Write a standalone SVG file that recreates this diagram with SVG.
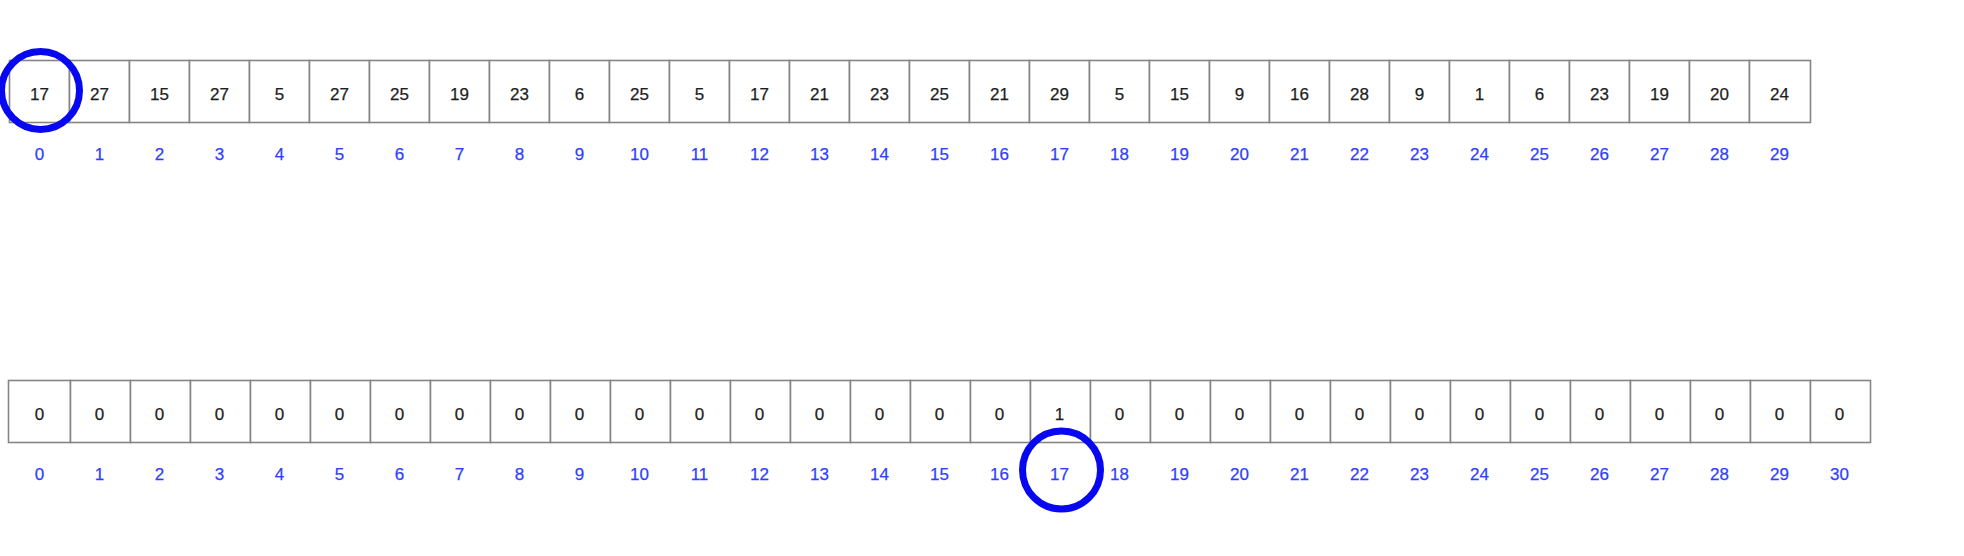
<svg xmlns="http://www.w3.org/2000/svg" width="1964" height="556" viewBox="0 0 1964 556">
<style>
.cell{fill:#fff;stroke:#858585;stroke-width:1.6}
.val{font-family:"Liberation Sans",Arial,sans-serif;font-size:17px;fill:#1e1e1e;text-anchor:middle;stroke:#1e1e1e;stroke-width:0.25}
.idx{font-family:"Liberation Sans",Arial,sans-serif;font-size:17px;fill:#3040ff;text-anchor:middle;stroke:#3040ff;stroke-width:0.25}
.ring{fill:none;stroke:#0808f0;stroke-width:7}
</style>
<rect width="1964" height="556" fill="#fff"/>
<g id="top-array">
<g id="t0"><rect class="cell" x="9.5" y="60.5" width="60" height="62"/><text class="val" x="39.5" y="99.5">17</text><text class="idx" x="39.5" y="159.5">0</text></g>
<g id="t1"><rect class="cell" x="69.5" y="60.5" width="60" height="62"/><text class="val" x="99.5" y="99.5">27</text><text class="idx" x="99.5" y="159.5">1</text></g>
<g id="t2"><rect class="cell" x="129.5" y="60.5" width="60" height="62"/><text class="val" x="159.5" y="99.5">15</text><text class="idx" x="159.5" y="159.5">2</text></g>
<g id="t3"><rect class="cell" x="189.5" y="60.5" width="60" height="62"/><text class="val" x="219.5" y="99.5">27</text><text class="idx" x="219.5" y="159.5">3</text></g>
<g id="t4"><rect class="cell" x="249.5" y="60.5" width="60" height="62"/><text class="val" x="279.5" y="99.5">5</text><text class="idx" x="279.5" y="159.5">4</text></g>
<g id="t5"><rect class="cell" x="309.5" y="60.5" width="60" height="62"/><text class="val" x="339.5" y="99.5">27</text><text class="idx" x="339.5" y="159.5">5</text></g>
<g id="t6"><rect class="cell" x="369.5" y="60.5" width="60" height="62"/><text class="val" x="399.5" y="99.5">25</text><text class="idx" x="399.5" y="159.5">6</text></g>
<g id="t7"><rect class="cell" x="429.5" y="60.5" width="60" height="62"/><text class="val" x="459.5" y="99.5">19</text><text class="idx" x="459.5" y="159.5">7</text></g>
<g id="t8"><rect class="cell" x="489.5" y="60.5" width="60" height="62"/><text class="val" x="519.5" y="99.5">23</text><text class="idx" x="519.5" y="159.5">8</text></g>
<g id="t9"><rect class="cell" x="549.5" y="60.5" width="60" height="62"/><text class="val" x="579.5" y="99.5">6</text><text class="idx" x="579.5" y="159.5">9</text></g>
<g id="t10"><rect class="cell" x="609.5" y="60.5" width="60" height="62"/><text class="val" x="639.5" y="99.5">25</text><text class="idx" x="639.5" y="159.5">10</text></g>
<g id="t11"><rect class="cell" x="669.5" y="60.5" width="60" height="62"/><text class="val" x="699.5" y="99.5">5</text><text class="idx" x="699.5" y="159.5">11</text></g>
<g id="t12"><rect class="cell" x="729.5" y="60.5" width="60" height="62"/><text class="val" x="759.5" y="99.5">17</text><text class="idx" x="759.5" y="159.5">12</text></g>
<g id="t13"><rect class="cell" x="789.5" y="60.5" width="60" height="62"/><text class="val" x="819.5" y="99.5">21</text><text class="idx" x="819.5" y="159.5">13</text></g>
<g id="t14"><rect class="cell" x="849.5" y="60.5" width="60" height="62"/><text class="val" x="879.5" y="99.5">23</text><text class="idx" x="879.5" y="159.5">14</text></g>
<g id="t15"><rect class="cell" x="909.5" y="60.5" width="60" height="62"/><text class="val" x="939.5" y="99.5">25</text><text class="idx" x="939.5" y="159.5">15</text></g>
<g id="t16"><rect class="cell" x="969.5" y="60.5" width="60" height="62"/><text class="val" x="999.5" y="99.5">21</text><text class="idx" x="999.5" y="159.5">16</text></g>
<g id="t17"><rect class="cell" x="1029.5" y="60.5" width="60" height="62"/><text class="val" x="1059.5" y="99.5">29</text><text class="idx" x="1059.5" y="159.5">17</text></g>
<g id="t18"><rect class="cell" x="1089.5" y="60.5" width="60" height="62"/><text class="val" x="1119.5" y="99.5">5</text><text class="idx" x="1119.5" y="159.5">18</text></g>
<g id="t19"><rect class="cell" x="1149.5" y="60.5" width="60" height="62"/><text class="val" x="1179.5" y="99.5">15</text><text class="idx" x="1179.5" y="159.5">19</text></g>
<g id="t20"><rect class="cell" x="1209.5" y="60.5" width="60" height="62"/><text class="val" x="1239.5" y="99.5">9</text><text class="idx" x="1239.5" y="159.5">20</text></g>
<g id="t21"><rect class="cell" x="1269.5" y="60.5" width="60" height="62"/><text class="val" x="1299.5" y="99.5">16</text><text class="idx" x="1299.5" y="159.5">21</text></g>
<g id="t22"><rect class="cell" x="1329.5" y="60.5" width="60" height="62"/><text class="val" x="1359.5" y="99.5">28</text><text class="idx" x="1359.5" y="159.5">22</text></g>
<g id="t23"><rect class="cell" x="1389.5" y="60.5" width="60" height="62"/><text class="val" x="1419.5" y="99.5">9</text><text class="idx" x="1419.5" y="159.5">23</text></g>
<g id="t24"><rect class="cell" x="1449.5" y="60.5" width="60" height="62"/><text class="val" x="1479.5" y="99.5">1</text><text class="idx" x="1479.5" y="159.5">24</text></g>
<g id="t25"><rect class="cell" x="1509.5" y="60.5" width="60" height="62"/><text class="val" x="1539.5" y="99.5">6</text><text class="idx" x="1539.5" y="159.5">25</text></g>
<g id="t26"><rect class="cell" x="1569.5" y="60.5" width="60" height="62"/><text class="val" x="1599.5" y="99.5">23</text><text class="idx" x="1599.5" y="159.5">26</text></g>
<g id="t27"><rect class="cell" x="1629.5" y="60.5" width="60" height="62"/><text class="val" x="1659.5" y="99.5">19</text><text class="idx" x="1659.5" y="159.5">27</text></g>
<g id="t28"><rect class="cell" x="1689.5" y="60.5" width="60" height="62"/><text class="val" x="1719.5" y="99.5">20</text><text class="idx" x="1719.5" y="159.5">28</text></g>
<g id="t29"><rect class="cell" x="1749.5" y="60.5" width="61" height="62"/><text class="val" x="1779.5" y="99.5">24</text><text class="idx" x="1779.5" y="159.5">29</text></g>
</g>
<g id="bottom-array">
<g id="b0"><rect class="cell" x="8.5" y="380.5" width="62" height="62"/><text class="val" x="39.5" y="419.5">0</text><text class="idx" x="39.5" y="479.5">0</text></g>
<g id="b1"><rect class="cell" x="70.5" y="380.5" width="60" height="62"/><text class="val" x="99.5" y="419.5">0</text><text class="idx" x="99.5" y="479.5">1</text></g>
<g id="b2"><rect class="cell" x="130.5" y="380.5" width="60" height="62"/><text class="val" x="159.5" y="419.5">0</text><text class="idx" x="159.5" y="479.5">2</text></g>
<g id="b3"><rect class="cell" x="190.5" y="380.5" width="60" height="62"/><text class="val" x="219.5" y="419.5">0</text><text class="idx" x="219.5" y="479.5">3</text></g>
<g id="b4"><rect class="cell" x="250.5" y="380.5" width="60" height="62"/><text class="val" x="279.5" y="419.5">0</text><text class="idx" x="279.5" y="479.5">4</text></g>
<g id="b5"><rect class="cell" x="310.5" y="380.5" width="60" height="62"/><text class="val" x="339.5" y="419.5">0</text><text class="idx" x="339.5" y="479.5">5</text></g>
<g id="b6"><rect class="cell" x="370.5" y="380.5" width="60" height="62"/><text class="val" x="399.5" y="419.5">0</text><text class="idx" x="399.5" y="479.5">6</text></g>
<g id="b7"><rect class="cell" x="430.5" y="380.5" width="60" height="62"/><text class="val" x="459.5" y="419.5">0</text><text class="idx" x="459.5" y="479.5">7</text></g>
<g id="b8"><rect class="cell" x="490.5" y="380.5" width="60" height="62"/><text class="val" x="519.5" y="419.5">0</text><text class="idx" x="519.5" y="479.5">8</text></g>
<g id="b9"><rect class="cell" x="550.5" y="380.5" width="60" height="62"/><text class="val" x="579.5" y="419.5">0</text><text class="idx" x="579.5" y="479.5">9</text></g>
<g id="b10"><rect class="cell" x="610.5" y="380.5" width="60" height="62"/><text class="val" x="639.5" y="419.5">0</text><text class="idx" x="639.5" y="479.5">10</text></g>
<g id="b11"><rect class="cell" x="670.5" y="380.5" width="60" height="62"/><text class="val" x="699.5" y="419.5">0</text><text class="idx" x="699.5" y="479.5">11</text></g>
<g id="b12"><rect class="cell" x="730.5" y="380.5" width="60" height="62"/><text class="val" x="759.5" y="419.5">0</text><text class="idx" x="759.5" y="479.5">12</text></g>
<g id="b13"><rect class="cell" x="790.5" y="380.5" width="60" height="62"/><text class="val" x="819.5" y="419.5">0</text><text class="idx" x="819.5" y="479.5">13</text></g>
<g id="b14"><rect class="cell" x="850.5" y="380.5" width="60" height="62"/><text class="val" x="879.5" y="419.5">0</text><text class="idx" x="879.5" y="479.5">14</text></g>
<g id="b15"><rect class="cell" x="910.5" y="380.5" width="60" height="62"/><text class="val" x="939.5" y="419.5">0</text><text class="idx" x="939.5" y="479.5">15</text></g>
<g id="b16"><rect class="cell" x="970.5" y="380.5" width="60" height="62"/><text class="val" x="999.5" y="419.5">0</text><text class="idx" x="999.5" y="479.5">16</text></g>
<g id="b17"><rect class="cell" x="1030.5" y="380.5" width="60" height="62"/><text class="val" x="1059.5" y="419.5">1</text><text class="idx" x="1059.5" y="479.5">17</text></g>
<g id="b18"><rect class="cell" x="1090.5" y="380.5" width="60" height="62"/><text class="val" x="1119.5" y="419.5">0</text><text class="idx" x="1119.5" y="479.5">18</text></g>
<g id="b19"><rect class="cell" x="1150.5" y="380.5" width="60" height="62"/><text class="val" x="1179.5" y="419.5">0</text><text class="idx" x="1179.5" y="479.5">19</text></g>
<g id="b20"><rect class="cell" x="1210.5" y="380.5" width="60" height="62"/><text class="val" x="1239.5" y="419.5">0</text><text class="idx" x="1239.5" y="479.5">20</text></g>
<g id="b21"><rect class="cell" x="1270.5" y="380.5" width="60" height="62"/><text class="val" x="1299.5" y="419.5">0</text><text class="idx" x="1299.5" y="479.5">21</text></g>
<g id="b22"><rect class="cell" x="1330.5" y="380.5" width="60" height="62"/><text class="val" x="1359.5" y="419.5">0</text><text class="idx" x="1359.5" y="479.5">22</text></g>
<g id="b23"><rect class="cell" x="1390.5" y="380.5" width="60" height="62"/><text class="val" x="1419.5" y="419.5">0</text><text class="idx" x="1419.5" y="479.5">23</text></g>
<g id="b24"><rect class="cell" x="1450.5" y="380.5" width="60" height="62"/><text class="val" x="1479.5" y="419.5">0</text><text class="idx" x="1479.5" y="479.5">24</text></g>
<g id="b25"><rect class="cell" x="1510.5" y="380.5" width="60" height="62"/><text class="val" x="1539.5" y="419.5">0</text><text class="idx" x="1539.5" y="479.5">25</text></g>
<g id="b26"><rect class="cell" x="1570.5" y="380.5" width="60" height="62"/><text class="val" x="1599.5" y="419.5">0</text><text class="idx" x="1599.5" y="479.5">26</text></g>
<g id="b27"><rect class="cell" x="1630.5" y="380.5" width="60" height="62"/><text class="val" x="1659.5" y="419.5">0</text><text class="idx" x="1659.5" y="479.5">27</text></g>
<g id="b28"><rect class="cell" x="1690.5" y="380.5" width="60" height="62"/><text class="val" x="1719.5" y="419.5">0</text><text class="idx" x="1719.5" y="479.5">28</text></g>
<g id="b29"><rect class="cell" x="1750.5" y="380.5" width="60" height="62"/><text class="val" x="1779.5" y="419.5">0</text><text class="idx" x="1779.5" y="479.5">29</text></g>
<g id="b30"><rect class="cell" x="1810.5" y="380.5" width="60" height="62"/><text class="val" x="1839.5" y="419.5">0</text><text class="idx" x="1839.5" y="479.5">30</text></g>
</g>
<g id="highlights">
<circle id="ring-top" class="ring" cx="40.5" cy="90.5" r="39"/>
<circle id="ring-bottom" class="ring" cx="1061.5" cy="470" r="39"/>
</g>
</svg>
